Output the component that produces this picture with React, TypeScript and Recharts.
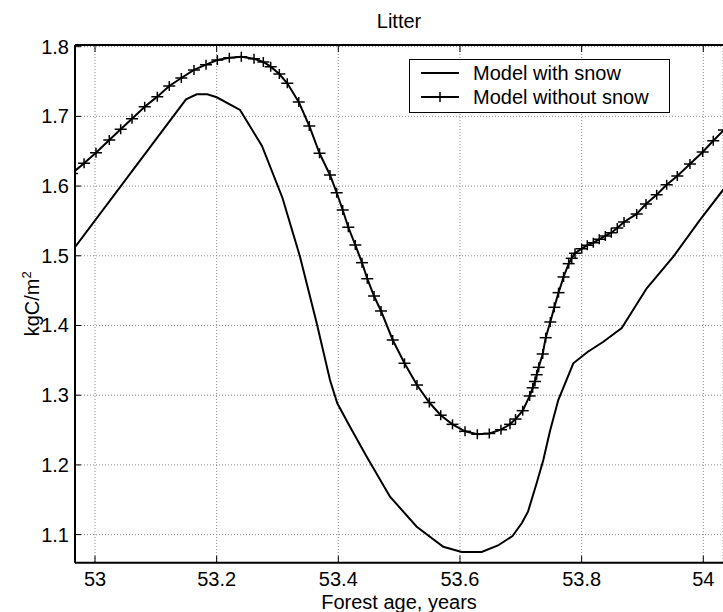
import { LineChart, Line, XAxis, YAxis, CartesianGrid, Legend } from 'recharts';

// Model with snow
const withSnowAge = [52.959, 53.1496, 53.1672, 53.1846, 53.2001, 53.2384, 53.2745, 53.3082, 53.337, 53.3645, 53.3863, 53.3983, 53.4192, 53.4467, 53.485, 53.5289, 53.5726, 53.6028, 53.6357, 53.6625, 53.6863, 53.7015, 53.7118, 53.7261, 53.737, 53.748, 53.7616, 53.7863, 53.8097, 53.8351, 53.8659, 53.907, 53.9507, 53.9946, 54.0406];
const withSnowLitter = [1.503, 1.7245, 1.7317, 1.7317, 1.7274, 1.7092, 1.6575, 1.5829, 1.4987, 1.4032, 1.3218, 1.2884, 1.2548, 1.2118, 1.1544, 1.1113, 1.0826, 1.075, 1.075, 1.0844, 1.098, 1.1162, 1.1329, 1.174, 1.207, 1.2486, 1.2931, 1.3458, 1.362, 1.3763, 1.3964, 1.4534, 1.4987, 1.5514, 1.6037];

// Model without snow
const noSnowAge = [52.962, 52.982, 53.0016, 53.0235, 53.0422, 53.0608, 53.0817, 53.1024, 53.1221, 53.1419,
  53.1627, 53.1825, 53.2011, 53.2208, 53.2405, 53.2614, 53.2767, 53.2888, 53.303, 53.3161,
  53.3349, 53.3523, 53.3691, 53.3863, 53.3973, 53.4072, 53.4164, 53.4279, 53.4389, 53.4476,
  53.4587, 53.4702, 53.4894, 53.5088, 53.5293, 53.5496, 53.5683, 53.5877, 53.6083, 53.6285,
  53.6482, 53.6674, 53.6822, 53.6913, 53.7031, 53.7146, 53.7195, 53.7233, 53.7261, 53.7294,
  53.736, 53.7409, 53.7485, 53.7551, 53.762, 53.7703, 53.7787, 53.7837, 53.7891, 53.8001,
  53.8093, 53.8192, 53.829, 53.8389, 53.8488, 53.8586, 53.8697, 53.8905, 53.9058, 53.9234,
  53.9398, 53.9573, 53.9781, 53.999, 54.0164, 54.034];
const noSnowLitter = [1.618, 1.6327, 1.6479, 1.6661, 1.6815, 1.6967, 1.7139, 1.7283, 1.7436, 1.7551,
  1.7666, 1.7742, 1.7809, 1.7842, 1.7857, 1.7828, 1.778, 1.7713, 1.7608, 1.7475,
  1.7207, 1.6862, 1.6471, 1.6159, 1.5905, 1.5657, 1.5409, 1.5155, 1.4901, 1.4671,
  1.4423, 1.4208, 1.3792, 1.3458, 1.3146, 1.2895, 1.2713, 1.2582, 1.2482, 1.244,
  1.2451, 1.2505, 1.2582, 1.2658, 1.2778, 1.2989, 1.3106, 1.3197, 1.3294, 1.34,
  1.3591, 1.3825, 1.405, 1.4261, 1.4471, 1.4696, 1.4887, 1.4964, 1.5036, 1.5102,
  1.5151, 1.5188, 1.5237, 1.5284, 1.5331, 1.5399, 1.5485, 1.56, 1.5743, 1.5877,
  1.602, 1.6145, 1.6317, 1.6489, 1.6651, 1.6805];

const xTicks = [53, 53.2, 53.4, 53.6, 53.8, 54];
const yTicks = [1.1, 1.2, 1.3, 1.4, 1.5, 1.6, 1.7, 1.8];
const xDomain = [52.9671, 54.0324];
const yDomain = [1.0597, 1.8024];

const title = 'Litter';
const xTitle = 'Forest age, years';
const withSnowName = 'Model with snow';
const noSnowName = 'Model without snow';

const withSnowData = withSnowAge.map((age, i) => ({ age, withSnow: withSnowLitter[i] }));
const noSnowData = noSnowAge.map((age, i) => ({ age, noSnow: noSnowLitter[i] }));

const FONT = '"Liberation Sans", Arial, Helvetica, sans-serif';
const Y_GAP = 6;

function PlusMark({ cx, cy }: { cx: number; cy: number }) {
  return (
    <g>
      <line x1={cx - 6} y1={cy} x2={cx + 6} y2={cy} stroke="#000" strokeWidth={1.5} />
      <line x1={cx} y1={cy - 5} x2={cx} y2={cy + 5} stroke="#000" strokeWidth={1.5} />
    </g>
  );
}

function YTick(props: any) {
  const { x, y, payload } = props;
  const ax = x + Y_GAP;
  return (
    <g>
      <line x1={ax} y1={y} x2={ax + 6} y2={y} stroke="#000" />
      <text x={x} y={y} dy={7} textAnchor="end" fontSize={20} fontFamily={FONT} fill="#000">
        {Number(payload.value).toFixed(1)}
      </text>
    </g>
  );
}

function XTick(props: any) {
  const { x, y, payload } = props;
  return (
    <g>
      <line x1={x} y1={y} x2={x} y2={y - 7} stroke="#000" />
      <text x={x} y={y + 23} textAnchor="middle" fontSize={20} fontFamily={FONT} fill="#000">
        {String(payload.value)}
      </text>
    </g>
  );
}

function TopTick(props: any) {
  const { x, y } = props;
  return <line x1={x} y1={y} x2={x} y2={y + 7} stroke="#000" />;
}

function renderLegend(props: any) {
  const { payload = [] } = props;
  return (
    <div
      style={{
        boxSizing: 'border-box',
        width: 261,
        height: 54,
        border: '1px solid #000',
        background: '#fff',
        paddingTop: 1,
        fontFamily: FONT,
        fontSize: 20,
        color: '#000',
      }}
    >
      {payload.map((entry: any) => (
        <div key={entry.value} style={{ display: 'flex', alignItems: 'center', height: 24 }}>
          <svg width={63} height={24}>
            <line x1={11} y1={12} x2={49} y2={12} stroke="#000" strokeWidth={2} />
            {entry.dataKey === 'noSnow' && <PlusMark cx={30} cy={12} />}
          </svg>
          <span style={{ lineHeight: '24px' }}>{entry.value}</span>
        </div>
      ))}
    </div>
  );
}

export default function App() {
  return (
    <div style={{ position: 'absolute', left: 0, top: 0, width: 723, height: 612, background: '#fff' }}>
      <LineChart width={723} height={612} margin={{ top: 44, right: 0, bottom: 0, left: 0 }}>
        <CartesianGrid stroke="#8a8a8a" strokeDasharray="1 2" />
        <XAxis
          dataKey="age"
          type="number"
          domain={xDomain}
          ticks={xTicks}
          allowDataOverflow
          height={49.3}
          tickSize={0}
          tickMargin={0}
          tick={<XTick />}
          axisLine={{ stroke: '#000', strokeWidth: 2 }}
          label={{
            content: (p: any) => (
              <text
                x={p.viewBox.x + p.viewBox.width / 2}
                y={p.viewBox.y + 46.6}
                textAnchor="middle"
                fontSize={20}
                fontFamily={FONT}
                fill="#000"
              >
                {xTitle}
              </text>
            ),
          }}
        />
        <XAxis
          xAxisId="top"
          orientation="top"
          dataKey="age"
          type="number"
          domain={xDomain}
          ticks={xTicks}
          allowDataOverflow
          height={1}
          tickSize={0}
          tickMargin={0}
          tick={<TopTick />}
          axisLine={{ stroke: '#000', strokeWidth: 2 }}
          label={{
            content: (p: any) => (
              <text
                x={p.viewBox.x + p.viewBox.width / 2}
                y={p.viewBox.y - 15.7}
                textAnchor="middle"
                fontSize={20}
                fontFamily={FONT}
                fill="#000"
              >
                {title}
              </text>
            ),
          }}
        />
        <YAxis
          type="number"
          domain={yDomain}
          ticks={yTicks}
          allowDataOverflow
          width={75}
          tickSize={0}
          tickMargin={Y_GAP}
          tick={<YTick />}
          axisLine={{ stroke: '#000', strokeWidth: 2 }}
          label={{
            content: (p: any) => {
              const cx = 39;
              const cy = p.viewBox.y + p.viewBox.height / 2;
              return (
                <text
                  x={cx}
                  y={cy}
                  transform={`rotate(-90, ${cx}, ${cy})`}
                  textAnchor="middle"
                  fontSize={20}
                  fontFamily={FONT}
                  fill="#000"
                >
                  kgC/m<tspan dy={-8} fontSize={13}>2</tspan>
                </text>
              );
            },
          }}
        />
        <Legend
          layout="horizontal"
          verticalAlign="middle"
          align="center"
          content={renderLegend}
          wrapperStyle={{ left: 409, top: 59.3, width: 261, height: 54 }}
        />
        <Line
          data={withSnowData}
          dataKey="withSnow"
          name={withSnowName}
          type="linear"
          stroke="#000"
          strokeWidth={2}
          dot={false}
          activeDot={false}
          isAnimationActive={false}
        />
        <Line
          data={noSnowData}
          dataKey="noSnow"
          name={noSnowName}
          type="linear"
          stroke="#000"
          strokeWidth={2}
          dot={(p: any) => <PlusMark key={`d-${p.index}`} cx={p.cx} cy={p.cy} />}
          activeDot={false}
          isAnimationActive={false}
        />
      </LineChart>
    </div>
  );
}
